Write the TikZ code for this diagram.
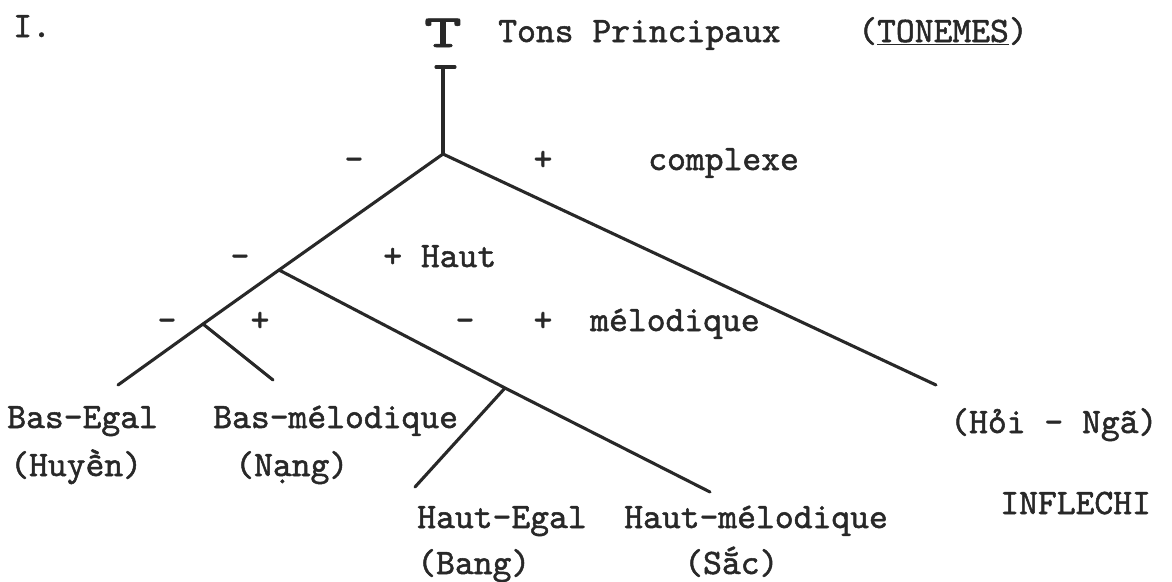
\documentclass[tikz,border=0pt]{standalone}
\usepackage{fontspec}
\usepackage{graphicx}
\setmonofont{lmmono10-regular.otf}[FakeBold=1.4]
\definecolor{ink}{RGB}{40,40,40}
\tikzset{
  lab/.style={anchor=base west,inner sep=0pt,text=ink,font=\ttfamily\fontsize{25.5}{30}\selectfont},
  sgn/.style={lab,anchor=base},
  branch/.style={draw=ink,line width=2.2pt,line cap=round},
}
\begin{document}
\begin{tikzpicture}[x=0.025cm,y=-0.025cm]
        \useasboundingbox[fill=white] (0,0) rectangle (1172,581);
        \begin{scope}

          \node (num) at (13,37) [lab]{I.};
          \node (topT) at (443,47) [sgn]{\scalebox{1.55}[1.0]{\fontsize{33}{33}\selectfont T}};
          \node (tons) at (498,42) [lab]{Tons Principaux};
          \node (tonemes) at (858,42) [lab]{(\underline{TONEMES})};

          \node (m0) at (354,170) [sgn]{-};
          \node (p0) at (543,170) [sgn]{+};
          \node (cplx) at (648,170) [lab]{complexe};
          \node (m1) at (240,267) [sgn]{-};
          \node (haut) at (383,267) [lab]{+ Haut};
          \node (m2) at (167,331) [sgn]{-};
          \node (p2) at (260,331) [sgn]{+};
          \node (m3) at (465,331) [sgn]{-};
          \node (p3) at (543,331) [sgn]{+};
          \node (melod) at (590,331) [lab]{mélodique};

          \node (basegal) at (7,428) [lab]{Bas-Egal};
          \node (huyen) at (10,476) [lab]{(Huyền)};
          \node (basmel) at (213,428) [lab]{Bas-mélodique};
          \node (nang) at (235,476) [lab]{(Nạng)};
          \node (hautegal) at (417,528) [lab]{Haut-Egal};
          \node (bang) at (417,574) [lab]{(Bang)};
          \node (hautmel) at (624,528) [lab]{Haut-mélodique};
          \node (sac) at (684,574) [lab]{(Sắc)};
          \node (hoinga) at (950,433) [lab]{(Hỏi - Ngã)};
          \node (infl) at (1000,514) [lab]{INFLECHI};

          \coordinate (barl) at (436,67);
          \coordinate (barr) at (455,67);
          \coordinate (stem) at (443,67);
          \coordinate (j0) at (443,154);
          \coordinate (j1) at (279,270);
          \coordinate (j2) at (203,324);
          \coordinate (j3) at (505,388);
          \coordinate (lbe) at (118,385);
          \coordinate (lbm) at (273,380);
          \coordinate (lhe) at (415,487);
          \coordinate (lhm) at (710,492);
          \coordinate (linf) at (936,385);

          \draw[branch] (barl) -- (barr);
          \draw[branch] (stem) -- (j0);
          \draw[branch] (j0) -- (j1) -- (j2) -- (lbe);
          \draw[branch] (j0) -- (linf);
          \draw[branch] (j1) -- (j3) -- (lhm);
          \draw[branch] (j2) -- (lbm);
          \draw[branch] (j3) -- (lhe);

        \end{scope}
\end{tikzpicture}
\end{document}
